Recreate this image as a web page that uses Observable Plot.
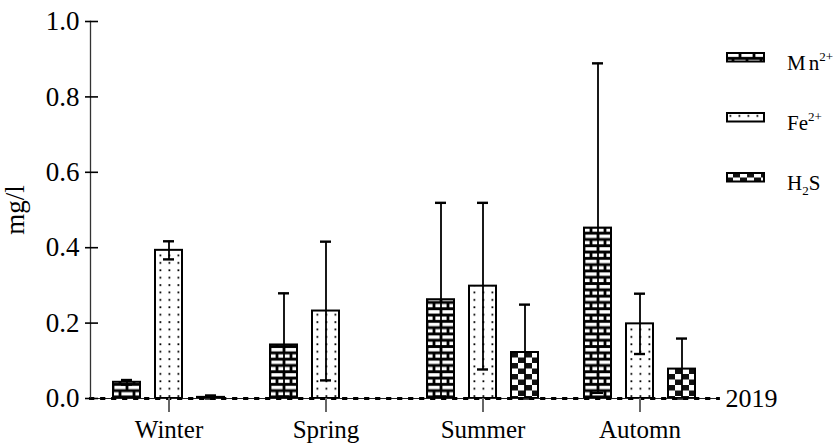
<!DOCTYPE html>
<html>
<head>
<meta charset="utf-8">
<script src="https://cdn.jsdelivr.net/npm/d3@7"></script>
<script src="https://cdn.jsdelivr.net/npm/@observablehq/plot@0.6"></script>
<style>
  html, body { margin: 0; padding: 0; background: #fff; }
  #wrap { position: relative; width: 839px; height: 443px; font-family: "Liberation Serif", "DejaVu Serif", serif; color: #000; }
  #wrap svg.plot { display: block; }
  #wrap svg.plot text { font-family: "Liberation Serif", "DejaVu Serif", serif; }
  .legend-item { position: absolute; left: 726px; height: 30px; width: 113px; }
  .legend-item svg { position: absolute; left: 0; top: 0; }
  .legend-item .lbl { position: absolute; left: 61px; top: 1px; font-size: 21px; line-height: 21px; white-space: nowrap; font-family: "Liberation Serif", "DejaVu Serif", serif; }
  .legend-item sup { font-size: 13px; vertical-align: 0; position: relative; top: -9px; }
  .legend-item sub { font-size: 13px; vertical-align: 0; position: relative; top: 5px; }
</style>
</head>
<body>
<div id="wrap"></div>
<script>
// ---- data ----
const seasons = ["Winter", "Spring", "Summer", "Automn"];
const species = ["Mn", "Fe", "H2S"];
const speciesLabels = ["M<span style='margin-left:3px'>n</span><sup>2+</sup>", "Fe<sup>2+</sup>", "H<sub>2</sub>S"];
const mnMean  = [0.043, 0.142, 0.262, 0.452];
const mnErr   = [0.006, 0.137, 0.257, 0.437];
const feMean  = [0.393, 0.232, 0.298, 0.198];
const feErr   = [0.024, 0.184, 0.221, 0.080];
const h2sMean = [0.003, null, 0.122, 0.078];
const h2sErr  = [0.005, null, 0.127, 0.081];
const yTicks  = [0, 0.2, 0.4, 0.6, 0.8, 1.0];
const yearLabel = ["2019"];
const patternIds = ["url(#p-brick)", "url(#p-dots)", "url(#p-check)"];

// ---- table built from the arrays ----
const series = {Mn: [mnMean, mnErr], Fe: [feMean, feErr], H2S: [h2sMean, h2sErr]};
const rows = [];
seasons.forEach((s, i) => {
  species.forEach(sp => {
    const [m, e] = series[sp];
    if (m[i] == null) return;
    rows.push({season: s, species: sp, value: m[i], lo: Math.max(0, m[i] - e[i]), hi: m[i] + e[i]});
  });
});

const font = '"Liberation Serif", "DejaVu Serif", serif';

const chart = Plot.plot({
  width: 839,
  height: 443,
  marginLeft: 96,
  marginRight: 128,
  marginTop: 21,
  marginBottom: 45,
  style: {fontFamily: font, background: "white", color: "black", overflow: "visible"},
  fx: {domain: seasons, paddingInner: 0, paddingOuter: -0.044, label: null},
  x: {domain: species, paddingInner: 0.35, paddingOuter: 0.503, axis: null},
  y: {domain: [0, 1], axis: null},
  color: {domain: species, range: patternIds},
  marks: [
    Plot.barY(rows, {fx: "season", x: "species", y: "value", fill: "species", stroke: "black", strokeWidth: 2}),
    Plot.ruleX(rows, {fx: "season", x: "species", y1: "lo", y2: "hi", stroke: "black", strokeWidth: 1.8}),
    Plot.tickY(rows, {fx: "season", x: "species", y: "hi", stroke: "black", strokeWidth: 2.4, insetLeft: 8, insetRight: 8}),
    Plot.tickY(rows, {fx: "season", x: "species", y: "lo", stroke: "black", strokeWidth: 2.4, insetLeft: 8, insetRight: 8}),
    Plot.frame({anchor: "bottom", facet: "super", stroke: "#222", strokeWidth: 1.2}),
    Plot.frame({anchor: "bottom", facet: "super", stroke: "black", strokeWidth: 2.8, strokeDasharray: "2.4,8.6"}),
    Plot.frame({anchor: "left", facet: "super", stroke: "#333", strokeWidth: 1.3}),
    Plot.axisY(yTicks, {
      anchor: "left", tickSize: 13, tickPadding: 6, strokeWidth: 1.6, dx: 8,
      tickFormat: d3.format(".1f"), fontSize: 27, fontFamily: font,
      label: "mg/l", labelAnchor: "center", labelArrow: "none", labelOffset: 86
    }),
    Plot.axisFx({anchor: "bottom", tickSize: 14, tickPadding: 8, fontSize: 25, fontFamily: font, stroke: "#666", strokeWidth: 2, label: null}),
    Plot.text(yearLabel, {facet: "super", text: d => d, frameAnchor: "bottom-right", textAnchor: "start", dx: 7, fontSize: 26, fontFamily: font, lineAnchor: "middle"})
  ]
});
chart.classList.add("plot");

// pattern definitions (styling)
const defs = d3.select(chart).insert("defs", ":first-child");
// brick: heavy black mortar, white bricks, staggered rows
const pb = defs.append("pattern").attr("id", "p-brick").attr("patternUnits", "userSpaceOnUse")
  .attr("width", 14).attr("height", 12.6);
pb.append("rect").attr("width", 14).attr("height", 12.6).attr("fill", "black");
pb.append("rect").attr("x", 1.4).attr("y", 1.5).attr("width", 11.2).attr("height", 3.4).attr("fill", "white");
pb.append("rect").attr("x", 0).attr("y", 7.8).attr("width", 5.6).attr("height", 3.4).attr("fill", "white");
pb.append("rect").attr("x", 8.4).attr("y", 7.8).attr("width", 5.6).attr("height", 3.4).attr("fill", "white");
// dots
const pd = defs.append("pattern").attr("id", "p-dots").attr("patternUnits", "userSpaceOnUse")
  .attr("width", 9).attr("height", 7.4);
pd.append("rect").attr("width", 9).attr("height", 7.4).attr("fill", "white");
pd.append("rect").attr("x", 3.5).attr("y", 3).attr("width", 1.8).attr("height", 1.8).attr("fill", "black");
// checker
const pc = defs.append("pattern").attr("id", "p-check").attr("patternUnits", "userSpaceOnUse")
  .attr("width", 14).attr("height", 11);
pc.append("rect").attr("width", 14).attr("height", 11).attr("fill", "white");
pc.append("rect").attr("x", 7).attr("y", 0).attr("width", 7).attr("height", 5.5).attr("fill", "#111");
pc.append("rect").attr("x", 0).attr("y", 5.5).attr("width", 7).attr("height", 5.5).attr("fill", "#111");

const wrap = document.getElementById("wrap");
wrap.appendChild(chart);

// legend (HTML, over the right margin)
species.forEach((sp, i) => {
  const item = d3.select(wrap).append("div").attr("class", "legend-item").style("top", (52 + i * 60) + "px");
  const s = item.append("svg").attr("width", 40).attr("height", 11);
  s.append("rect").attr("x", 1).attr("y", 1).attr("width", 37).attr("height", 8.5)
    .attr("fill", patternIds[i]).attr("stroke", "black").attr("stroke-width", 2);
  item.append("div").attr("class", "lbl").html(speciesLabels[i]);
});
</script>
</body>
</html>
